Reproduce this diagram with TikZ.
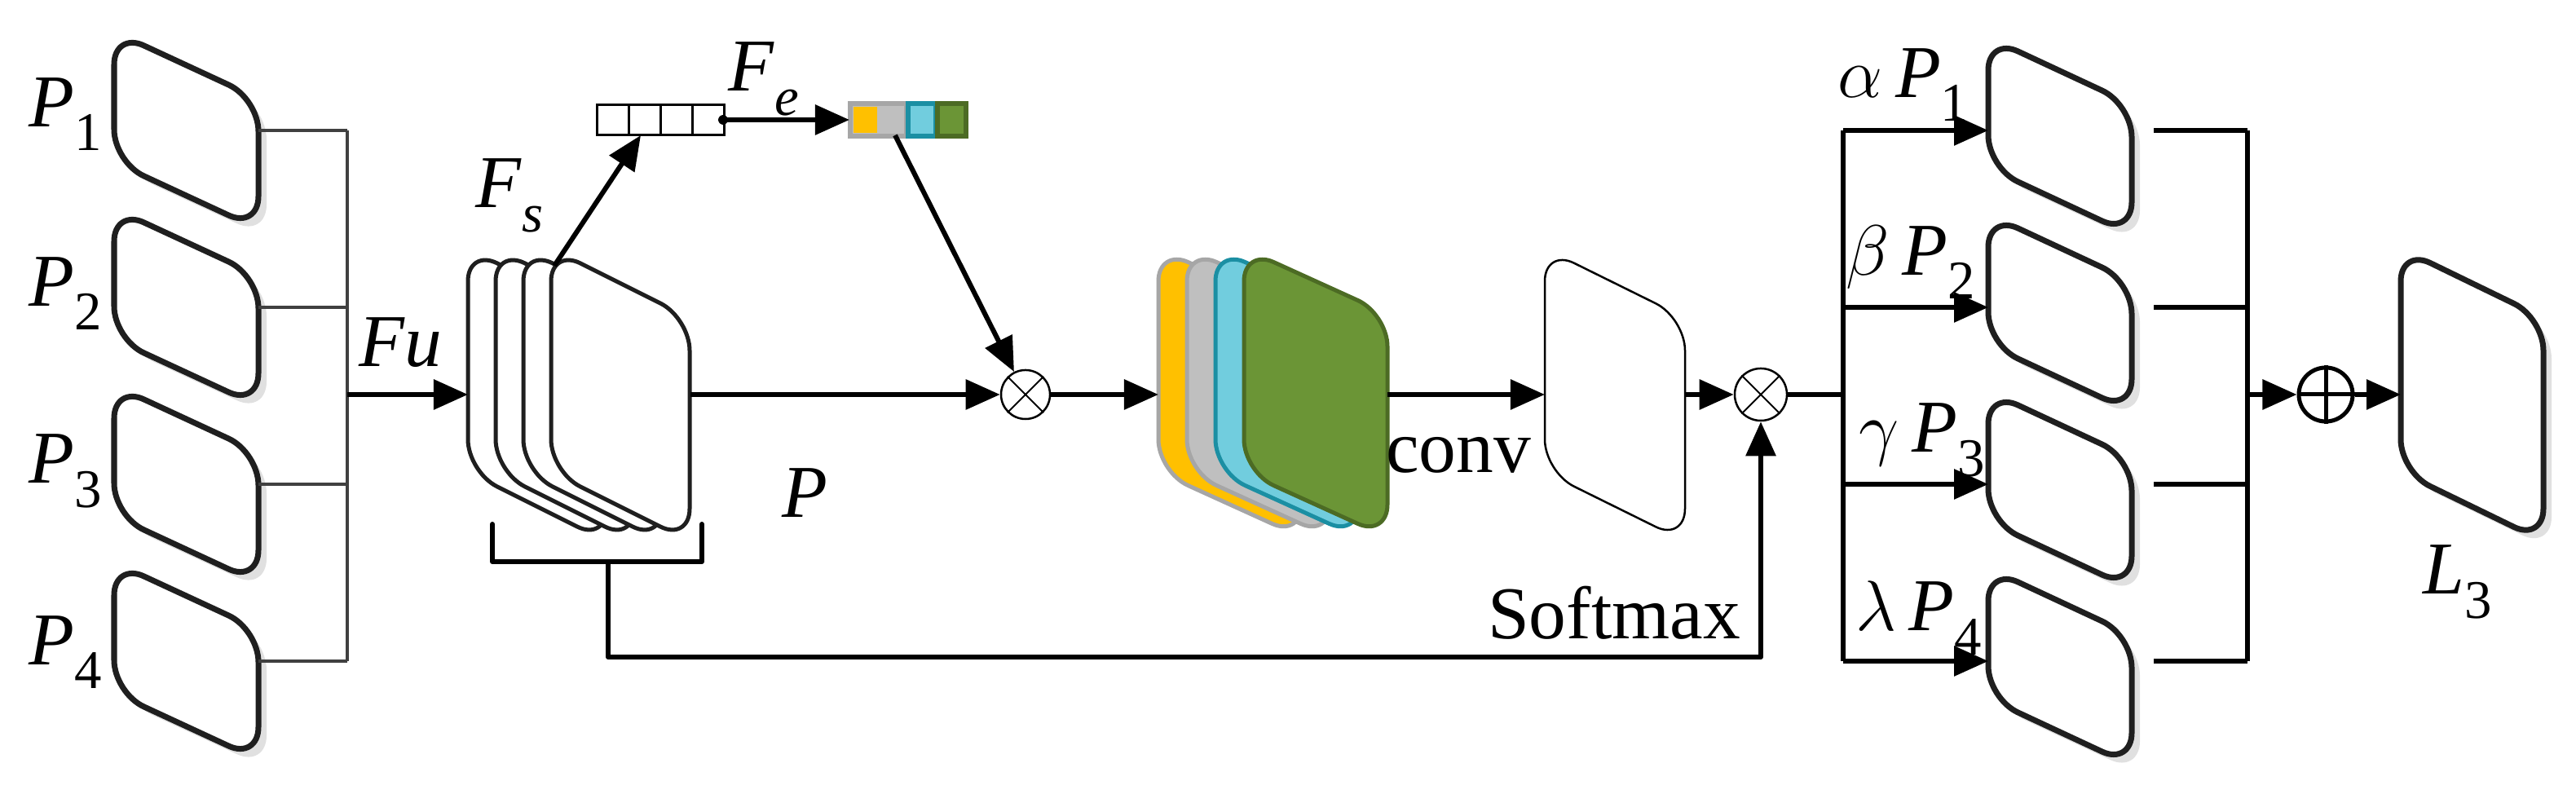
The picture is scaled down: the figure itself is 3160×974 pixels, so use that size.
\documentclass[tikz,border=0pt]{standalone}
\usepackage{fontspec}
\setmainfont{Liberation Serif}
\usetikzlibrary{arrows.meta}
\newcommand\subl[2]{#1\raisebox{-0.32em}{\fontsize{19}{20}\selectfont #2}}
\newcommand\shbox[6]{% style, x, y0, w, h, s
  \draw[#1] (#2,#3) -- ++(#4,#6) -- ++(0,#5) -- ++(-#4,-#6) -- cycle;}
\newcommand\shboxs[6]{% with shadow
  \fill[black!12,rounded corners=0.4cm] (#2+10,#3+10) -- ++(#4,#6) -- ++(0,#5) -- ++(-#4,-#6) -- cycle;
  \shbox{#1}{#2}{#3}{#4}{#5}{#6}}
\definecolor{cyel}{HTML}{FFC000}
\definecolor{cgry}{HTML}{BFBFBF}
\definecolor{cgrb}{HTML}{A6A6A6}
\definecolor{ccya}{HTML}{71CDDE}
\definecolor{ccyb}{HTML}{1B8FA3}
\definecolor{cgrn}{HTML}{6B9536}
\definecolor{cgnb}{HTML}{4C6B24}
\begin{document}
\begin{tikzpicture}[x=0.01cm,y=-0.01cm,
  box/.style={line width=0.07cm,draw=black!88,fill=white,rounded corners=0.4cm,line join=round},
  thin box/.style={line width=0.025cm,draw=black,fill=white,rounded corners=0.4cm},
  conn/.style={line width=0.04cm,draw=black!75},
  wire/.style={line width=0.06cm,line join=round},
  arr/.style={wire,-{Triangle[length=0.42cm,width=0.36cm]}},
  op/.style={circle,draw,line width=0.025cm,minimum size=0.6cm,inner sep=0pt,fill=white},
  lbl/.style={font=\fontsize{26}{30}\selectfont,inner sep=0pt},
  cell/.style={line width=0.03cm}]
\fill[white] (0,0) rectangle (3160,974);
\useasboundingbox (0,0) rectangle (3160,974);
% left P boxes
\foreach \i in {0,1,2,3}{
  \shboxs{box}{140}{39+217*\i}{177}{160}{82}
  \draw[conn] (317,160+217*\i) -- (426,160+217*\i);
}
\node[lbl] (p1) at (80,140) {\subl{\textit{P}}{1}};
\node[lbl] (p2) at (80,360) {\subl{\textit{P}}{2}};
\node[lbl] (p3) at (80,578) {\subl{\textit{P}}{3}};
\node[lbl] (p4) at (80,800) {\subl{\textit{P}}{4}};
\draw[conn] (426,160) -- (426,811);
\coordinate (bus1) at (426,484);
% white stack
\foreach \i in {0,1,2,3}{
  \shbox{box,line width=0.05cm}{574+34*\i}{305}{170}{274}{85}
}
\coordinate (stackL) at (574,484);
\coordinate (stackR) at (847,484);
\draw[arr] (bus1) -- (stackL);
\node[lbl] (fu) at (491,420) {\textit{Fu}};
% bracket
\draw[wire,line cap=round] (604,643) -- (604,689) -- (861,689) -- (861,643);
\node[lbl] (plab) at (987,605) {\textit{P}};
% white vector
\foreach \i in {0,1,2,3}{
  \draw[cell,fill=white] (732+39*\i,129) rectangle ++(39,37);
}
\coordinate (wv) at (887,147);
\coordinate (wvb) at (786,166);
\coordinate (stt) at (680,326);
\draw[arr] (stt) -- (wvb);
\node[lbl] (fs) at (625,240) {\subl{\textit{F}}{\textit{s}}};
% colored vector
\draw[line width=0.06cm,draw=cgrb,fill=cgry] (1043,127) rectangle (1112,167);
\fill[cyel] (1047,131) rectangle (1076,163);
\draw[line width=0.06cm,draw=ccyb,fill=ccya] (1114,127) rectangle (1148,167);
\draw[line width=0.06cm,draw=cgnb,fill=cgrn] (1150,127) rectangle (1185,167);
\coordinate (cv) at (1042,147);
\coordinate (cvb) at (1098,166);
\draw[wire] (wv) circle (3);
\draw[arr] (wv) -- (cv);
\node[lbl] (fe) at (937,97) {\subl{\textit{F}}{\textit{e}}};
% otimes 1
\node[op] (m1) at (1258,484) {};
\draw[line width=0.02cm] (m1.north west) -- (m1.south east) (m1.north east) -- (m1.south west);
\draw[arr] (stackR) -- (m1);
\draw[arr] (cvb) -- (m1);
% colored stack
\shbox{box,line width=0.05cm,draw=cgrb,fill=cyel}{1421}{305}{176}{274}{80}
\shbox{box,line width=0.05cm,draw=cgrb,fill=cgry}{1456}{305}{176}{274}{80}
\shbox{box,line width=0.05cm,draw=ccyb,fill=ccya}{1491}{305}{176}{274}{80}
\shbox{box,line width=0.05cm,draw=cgnb,fill=cgrn}{1526}{305}{176}{274}{80}
\coordinate (csL) at (1421,484);
\coordinate (csR) at (1702,484);
\draw[arr] (m1) -- (csL);
% trapezoid 2
\shbox{thin box}{1895}{305}{172}{274}{85}
\coordinate (t2L) at (1895,484);
\coordinate (t2R) at (2067,484);
\draw[arr] (csR) -- (t2L);
\node[lbl] (conv) at (1789,558) {conv};
% otimes 2
\node[op,minimum size=0.64cm] (m2) at (2160,484) {};
\draw[line width=0.02cm] (m2.north west) -- (m2.south east) (m2.north east) -- (m2.south west);
\draw[arr] (t2R) -- (m2);
\coordinate (brk) at (746,689);
\coordinate (sm) at (2160,806);
\draw[arr] (brk) -- (746,806) -- (sm) -- (m2);
\node[lbl] (soft) at (1980,752) {Softmax};
% right bus
\coordinate (bus2) at (2261,484);
\draw[wire] (m2) -- (bus2);
\draw[wire] (2261,160) -- (2261,811);
\foreach \i in {0,1,2,3}{
  \shboxs{box}{2439}{46+217*\i}{176}{160}{82}
  \draw[arr] (2261,160+217*\i) -- (2439,160+217*\i);
  \draw[wire] (2642,160+217*\i) -- (2757,160+217*\i);
}
\draw[wire] (2757,160) -- (2757,811);
\node[lbl,anchor=west] (a1) at (2254,104) {$\alpha$\,\subl{\textit{P}}{1}};
\node[lbl,anchor=west] (a2) at (2264,322) {$\beta$\,\subl{\textit{P}}{2}};
\node[lbl,anchor=west] (a3) at (2280,540) {$\gamma$\,\subl{\textit{P}}{3}};
\node[lbl,anchor=west] (a4) at (2276,758) {$\lambda$\,\subl{\textit{P}}{4}};
% oplus
\node[op,line width=0.05cm,minimum size=0.66cm] (pl) at (2853,484) {};
\draw[line width=0.05cm] (pl.north) -- (pl.south) (pl.west) -- (pl.east);
\coordinate (bus3) at (2757,484);
\draw[arr] (bus3) -- (pl);
\shboxs{box}{2945}{305}{175}{274}{85}
\coordinate (l3L) at (2945,484);
\draw[arr] (pl) -- (l3L);
\node[lbl] (l3) at (3015,714) {\subl{\textit{L}}{3}};
\end{tikzpicture}
\end{document}
